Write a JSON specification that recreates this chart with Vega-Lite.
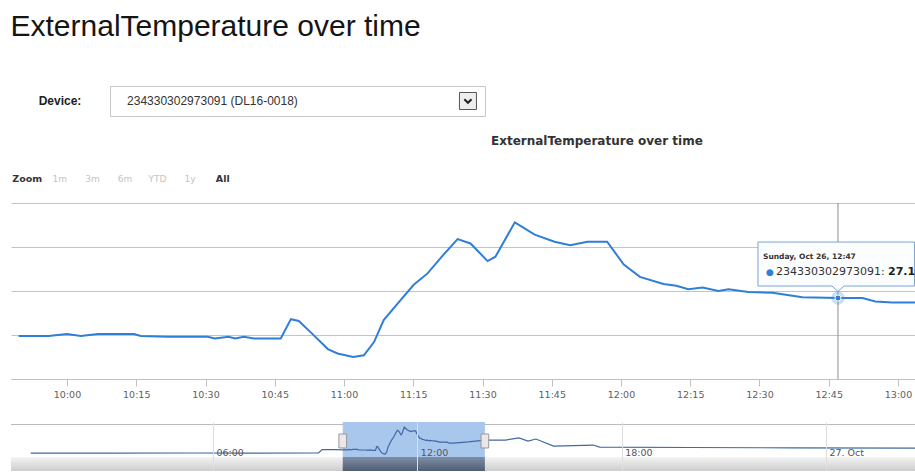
{
  "$schema": "https://vega.github.io/schema/vega-lite/v6.json",
  "background": "#ffffff",
  "padding": {"left": 10, "top": 11, "right": 0, "bottom": 0},
  "config": {
    "view": {"stroke": null},
    "font": "DejaVu Sans"
  },
  "title": {
    "text": "ExternalTemperature over time",
    "anchor": "start",
    "font": "Liberation Sans",
    "fontSize": 30,
    "fontWeight": "normal",
    "color": "#151515",
    "offset": 44
  },
  "datasets": {
    "temps": [
      {"time": "2014-10-26T00:39:00", "value": 24.0},
      {"time": "2014-10-26T03:00:00", "value": 24.0},
      {"time": "2014-10-26T05:30:00", "value": 24.05},
      {"time": "2014-10-26T07:00:00", "value": 24.0},
      {"time": "2014-10-26T09:06:00", "value": 24.05},
      {"time": "2014-10-26T09:12:00", "value": 25.0},
      {"time": "2014-10-26T09:35:00", "value": 25.0},
      {"time": "2014-10-26T09:49:30", "value": 24.95},
      {"time": "2014-10-26T09:56:00", "value": 24.95},
      {"time": "2014-10-26T10:00:00", "value": 25.05},
      {"time": "2014-10-26T10:03:00", "value": 24.95},
      {"time": "2014-10-26T10:06:42", "value": 25.05},
      {"time": "2014-10-26T10:14:30", "value": 25.05},
      {"time": "2014-10-26T10:16:00", "value": 24.95},
      {"time": "2014-10-26T10:21:48", "value": 24.9},
      {"time": "2014-10-26T10:30:30", "value": 24.9},
      {"time": "2014-10-26T10:32:00", "value": 24.8},
      {"time": "2014-10-26T10:35:00", "value": 24.9},
      {"time": "2014-10-26T10:36:24", "value": 24.8},
      {"time": "2014-10-26T10:38:18", "value": 24.9},
      {"time": "2014-10-26T10:40:30", "value": 24.8},
      {"time": "2014-10-26T10:46:18", "value": 24.8},
      {"time": "2014-10-26T10:48:30", "value": 25.9},
      {"time": "2014-10-26T10:50:12", "value": 25.8},
      {"time": "2014-10-26T10:52:48", "value": 25.15},
      {"time": "2014-10-26T10:56:30", "value": 24.2},
      {"time": "2014-10-26T10:58:36", "value": 23.95},
      {"time": "2014-10-26T11:02:00", "value": 23.75},
      {"time": "2014-10-26T11:04:18", "value": 23.85},
      {"time": "2014-10-26T11:06:30", "value": 24.6},
      {"time": "2014-10-26T11:08:36", "value": 25.85},
      {"time": "2014-10-26T11:12:18", "value": 27.0},
      {"time": "2014-10-26T11:15:06", "value": 27.85},
      {"time": "2014-10-26T11:18:06", "value": 28.5},
      {"time": "2014-10-26T11:21:00", "value": 29.4},
      {"time": "2014-10-26T11:24:36", "value": 30.45},
      {"time": "2014-10-26T11:27:24", "value": 30.2},
      {"time": "2014-10-26T11:31:06", "value": 29.2},
      {"time": "2014-10-26T11:32:48", "value": 29.45},
      {"time": "2014-10-26T11:37:00", "value": 31.4},
      {"time": "2014-10-26T11:41:18", "value": 30.7},
      {"time": "2014-10-26T11:45:36", "value": 30.3},
      {"time": "2014-10-26T11:49:00", "value": 30.1},
      {"time": "2014-10-26T11:52:42", "value": 30.3},
      {"time": "2014-10-26T11:57:00", "value": 30.3},
      {"time": "2014-10-26T12:00:36", "value": 29.0},
      {"time": "2014-10-26T12:04:06", "value": 28.3},
      {"time": "2014-10-26T12:09:12", "value": 27.9},
      {"time": "2014-10-26T12:12:00", "value": 27.8},
      {"time": "2014-10-26T12:14:36", "value": 27.6},
      {"time": "2014-10-26T12:17:42", "value": 27.7},
      {"time": "2014-10-26T12:21:06", "value": 27.5},
      {"time": "2014-10-26T12:23:18", "value": 27.6},
      {"time": "2014-10-26T12:27:36", "value": 27.45},
      {"time": "2014-10-26T12:32:48", "value": 27.4},
      {"time": "2014-10-26T12:39:18", "value": 27.15},
      {"time": "2014-10-26T12:47:00", "value": 27.1},
      {"time": "2014-10-26T12:52:18", "value": 27.1},
      {"time": "2014-10-26T12:55:06", "value": 26.9},
      {"time": "2014-10-26T12:58:48", "value": 26.85},
      {"time": "2014-10-26T13:03:48", "value": 26.85},
      {"time": "2014-10-26T13:30:00", "value": 27.2},
      {"time": "2014-10-26T13:59:00", "value": 27.7},
      {"time": "2014-10-26T14:35:00", "value": 27.7},
      {"time": "2014-10-26T14:59:00", "value": 28.3},
      {"time": "2014-10-26T15:15:00", "value": 27.4},
      {"time": "2014-10-26T15:29:00", "value": 28.0},
      {"time": "2014-10-26T16:00:00", "value": 26.0},
      {"time": "2014-10-26T17:10:00", "value": 26.3},
      {"time": "2014-10-26T17:21:00", "value": 25.7},
      {"time": "2014-10-26T20:00:00", "value": 25.6},
      {"time": "2014-10-26T23:00:00", "value": 25.5},
      {"time": "2014-10-27T02:37:00", "value": 25.4}
    ],
    "hover": [
      {"time": "2014-10-26T12:47:00", "value": 27.1, "header": "Sunday, Oct 26, 12:47", "device": "234330302973091:", "reading": "27.1"}
    ],
    "buttons": [
      {"label": "Zoom", "kind": "title"},
      {"label": "1m", "kind": "off"},
      {"label": "3m", "kind": "off"},
      {"label": "6m", "kind": "off"},
      {"label": "YTD", "kind": "off"},
      {"label": "1y", "kind": "off"},
      {"label": "All", "kind": "on"}
    ]
  },
  "spacing": 18,
  "vconcat": [
    {
      "spacing": 0,
      "hconcat": [
        {
          "width": 98,
          "height": 30,
          "data": {"values": [{"t": "Device:"}]},
          "mark": {"type": "text", "font": "Liberation Sans", "fontSize": 12, "fontWeight": "bold", "color": "#222222"},
          "encoding": {"text": {"field": "t"}}
        },
        {
          "width": 375,
          "height": 30,
          "view": {"stroke": "#c6c6c6", "strokeWidth": 1, "fill": "#ffffff"},
          "layer": [
            {
              "data": {"values": [{"part": "value", "t": "234330302973091 (DL16-0018)"}]},
              "mark": {"type": "text", "align": "left", "font": "Liberation Sans", "fontSize": 12, "color": "#333333"},
              "encoding": {
                "x": {"field": "part", "type": "nominal", "scale": {"type": "point", "domain": ["value", "icon"], "padding": 0.05}, "axis": null},
                "text": {"field": "t"}
              }
            },
            {
              "data": {"values": [{"part": "icon"}]},
              "mark": {"type": "point", "shape": "square", "size": 289, "filled": true, "fill": "#eeeeee", "stroke": "#555555", "strokeWidth": 1, "opacity": 1},
              "encoding": {"x": {"field": "part", "type": "nominal"}}
            },
            {
              "data": {"values": [{"part": "icon"}]},
              "mark": {"type": "point", "shape": "M-0.6,-0.3 L0,0.3 L0.6,-0.3", "size": 144, "filled": false, "color": "#222222", "strokeWidth": 2, "opacity": 1},
              "encoding": {"x": {"field": "part", "type": "nominal"}}
            }
          ]
        }
      ]
    },
    {
      "width": 228,
      "height": 26,
      "title": {
        "text": "ExternalTemperature over time",
        "anchor": "start",
        "dx": 480,
        "font": "DejaVu Sans",
        "fontSize": 12,
        "fontWeight": "bold",
        "color": "#333333",
        "offset": 10
      },
      "data": {"name": "buttons"},
      "encoding": {
        "x": {"field": "label", "type": "nominal", "scale": {"type": "point", "domain": ["Zoom", "1m", "3m", "6m", "YTD", "1y", "All"], "padding": 0.5}, "axis": null},
        "text": {"field": "label"}
      },
      "layer": [
        {
          "transform": [{"filter": "datum.kind == 'off'"}],
          "mark": {"type": "text", "fontSize": 9, "color": "#c4c4c4", "dy": 8}
        },
        {
          "transform": [{"filter": "datum.kind != 'off'"}],
          "mark": {"type": "text", "fontSize": 9.5, "fontWeight": "bold", "color": "#333333", "dy": 8}
        }
      ]
    },
    {
      "spacing": 23,
      "vconcat": [
        {
          "width": 905,
          "height": 176,
          "layer": [
            {
              "data": {"name": "temps"},
              "transform": [
                {"filter": {"field": "time", "range": [
                  {"year": 2014, "month": 10, "date": 26, "hours": 9, "minutes": 49, "seconds": 0},
                  {"year": 2014, "month": 10, "date": 26, "hours": 13, "minutes": 3, "seconds": 50}
                ]}}
              ],
              "mark": {"type": "line", "color": "#2f7ed8", "strokeWidth": 2},
              "encoding": {
                "x": {
                  "field": "time",
                  "type": "temporal",
                  "scale": {"domain": [
                    {"year": 2014, "month": 10, "date": 26, "hours": 9, "minutes": 47, "seconds": 52},
                    {"year": 2014, "month": 10, "date": 26, "hours": 13, "minutes": 3, "seconds": 54}
                  ]},
                  "axis": {
                    "format": "%H:%M",
                    "tickCount": 13,
                    "labelFont": "DejaVu Sans",
                    "labelFontSize": 9.5,
                    "labelColor": "#606060",
                    "tickSize": 7,
                    "tickColor": "#c0c0c0",
                    "domainColor": "#c0c0c0",
                    "labelPadding": 3,
                    "grid": false,
                    "title": null,
                    "labelFlush": false,
                    "labelOverlap": false
                  }
                },
                "y": {
                  "field": "value",
                  "type": "quantitative",
                  "scale": {"domain": [22.5, 32.5], "nice": false, "zero": false},
                  "axis": {
                    "values": [22.5, 25, 27.5, 30, 32.5],
                    "labels": false,
                    "ticks": false,
                    "domain": false,
                    "grid": true,
                    "gridColor": "#c4c4c4",
                    "gridWidth": 1.2,
                    "title": null
                  }
                }
              }
            },
            {
              "data": {"name": "hover"},
              "mark": {"type": "rule", "color": "#8c8c8c", "strokeWidth": 1},
              "encoding": {
                "x": {"field": "time", "type": "temporal"},
                "y": {"datum": 22.5, "type": "quantitative"},
                "y2": {"datum": 32.5}
              }
            },
            {
              "data": {"name": "hover"},
              "mark": {"type": "point", "shape": "circle", "size": 180, "filled": true, "color": "#2f7ed8", "opacity": 0.25},
              "encoding": {"x": {"field": "time", "type": "temporal"}, "y": {"field": "value", "type": "quantitative"}}
            },
            {
              "data": {"name": "hover"},
              "mark": {"type": "point", "shape": "circle", "size": 36, "filled": true, "color": "#2f7ed8", "opacity": 1, "stroke": "#ffffff", "strokeWidth": 1},
              "encoding": {"x": {"field": "time", "type": "temporal"}, "y": {"field": "value", "type": "quantitative"}}
            },
            {
              "data": {"name": "hover"},
              "mark": {"type": "point", "shape": "M-0.8,-0.56 L0.765,-0.56 L0.765,-0.12 L0.06,-0.12 L0,-0.065 L-0.06,-0.12 L-0.8,-0.12 Z", "size": 40000, "filled": true, "fill": "#fbfdff", "stroke": "#7aa3d4", "strokeWidth": 1, "opacity": 1},
              "encoding": {"x": {"field": "time", "type": "temporal"}, "y": {"field": "value", "type": "quantitative"}}
            },
            {
              "data": {"name": "hover"},
              "mark": {"type": "text", "align": "left", "baseline": "middle", "dx": -75, "dy": -41, "fontSize": 7.5, "fontWeight": "bold", "color": "#333333"},
              "encoding": {"x": {"field": "time", "type": "temporal"}, "y": {"field": "value", "type": "quantitative"}, "text": {"field": "header"}}
            },
            {
              "data": {"name": "hover"},
              "mark": {"type": "text", "align": "left", "baseline": "middle", "dx": -72, "dy": -26, "fontSize": 9, "color": "#2f7ed8", "text": "●"},
              "encoding": {"x": {"field": "time", "type": "temporal"}, "y": {"field": "value", "type": "quantitative"}}
            },
            {
              "data": {"name": "hover"},
              "mark": {"type": "text", "align": "left", "baseline": "middle", "dx": -62, "dy": -26, "fontSize": 11, "color": "#333333"},
              "encoding": {"x": {"field": "time", "type": "temporal"}, "y": {"field": "value", "type": "quantitative"}, "text": {"field": "device"}}
            },
            {
              "data": {"name": "hover"},
              "mark": {"type": "text", "align": "left", "baseline": "middle", "dx": 50, "dy": -26, "fontSize": 11, "fontWeight": "bold", "color": "#222222"},
              "encoding": {"x": {"field": "time", "type": "temporal"}, "y": {"field": "value", "type": "quantitative"}, "text": {"field": "reading"}}
            }
          ]
        },
        {
          "width": 905,
          "height": 49,
          "layer": [
            {
              "data": {"values": [{"part": "track"}]},
              "mark": {"type": "rect", "fill": {"gradient": "linear", "x1": 0, "y1": 0, "x2": 0, "y2": 1, "stops": [{"offset": 0, "color": "#f4f4f4"}, {"offset": 1, "color": "#cdcdcd"}]}},
              "encoding": {
                "x": {"datum": {"year": 2014, "month": 10, "date": 26, "hours": 0, "minutes": 4, "seconds": 4}, "type": "temporal"},
                "x2": {"datum": {"year": 2014, "month": 10, "date": 27, "hours": 2, "minutes": 38, "seconds": 35}},
                "y": {"datum": 22.9, "type": "quantitative", "scale": {"domain": [18.95, 32.82], "nice": false, "zero": false}, "axis": null},
                "y2": {"datum": 18.95}
              }
            },
            {
              "data": {"values": [{"part": "outline"}]},
              "mark": {"type": "rule", "color": "#b8b8b8", "strokeWidth": 1},
              "encoding": {
                "x": {"datum": {"year": 2014, "month": 10, "date": 26, "hours": 0, "minutes": 4, "seconds": 4}, "type": "temporal"},
                "x2": {"datum": {"year": 2014, "month": 10, "date": 27, "hours": 2, "minutes": 38, "seconds": 35}},
                "y": {"datum": 32.1, "type": "quantitative"}
              }
            },
            {
              "data": {"values": [{"from": "2014-10-26T09:48:33", "to": "2014-10-26T13:59:00"}], "format": {"parse": {"from": "date", "to": "date"}}},
              "mark": {"type": "rect", "fill": "#a9c6ec", "opacity": 1},
              "encoding": {
                "x": {"field": "from", "type": "temporal"},
                "x2": {"field": "to"},
                "y": {"datum": 32.82, "type": "quantitative"},
                "y2": {"datum": 22.9}
              }
            },
            {
              "data": {"values": [{"from": "2014-10-26T09:48:33", "to": "2014-10-26T13:59:00"}], "format": {"parse": {"from": "date", "to": "date"}}},
              "mark": {"type": "rect", "fill": {"gradient": "linear", "x1": 0, "y1": 0, "x2": 0, "y2": 1, "stops": [{"offset": 0, "color": "#7f8ea4"}, {"offset": 1, "color": "#4f5e74"}]}},
              "encoding": {
                "x": {"field": "from", "type": "temporal"},
                "x2": {"field": "to"},
                "y": {"datum": 22.9, "type": "quantitative"},
                "y2": {"datum": 18.95}
              }
            },
            {
              "data": {"name": "temps"},
              "mark": {"type": "line", "color": "#3f6aa3", "strokeWidth": 1.2},
              "encoding": {
                "x": {
                  "field": "time",
                  "type": "temporal",
                  "scale": {"domain": [
                    {"year": 2014, "month": 10, "date": 26, "hours": 0, "minutes": 4, "seconds": 4},
                    {"year": 2014, "month": 10, "date": 27, "hours": 2, "minutes": 38, "seconds": 35}
                  ]},
                  "axis": {
                    "values": [
                      {"year": 2014, "month": 10, "date": 26, "hours": 6},
                      {"year": 2014, "month": 10, "date": 26, "hours": 12},
                      {"year": 2014, "month": 10, "date": 26, "hours": 18},
                      {"year": 2014, "month": 10, "date": 27, "hours": 0}
                    ],
                    "labelExpr": "hours(datum.value) == 0 ? timeFormat(datum.value, '%d. %b') : timeFormat(datum.value, '%H:%M')",
                    "labelAlign": "left",
                    "labelOffset": 3,
                    "labelPadding": -18.5,
                    "labelBaseline": "middle",
                    "labelFont": "DejaVu Sans",
                    "labelFontSize": 9.5,
                    "labelColor": "#555555",
                    "ticks": false,
                    "domain": false,
                    "grid": true,
                    "gridColor": "#dedede",
                    "title": null,
                    "labelFlush": false,
                    "labelOverlap": false,
                    "zindex": 1
                  }
                },
                "y": {"field": "value", "type": "quantitative"}
              }
            },
            {
              "data": {"values": [{"edge": "2014-10-26T09:48:33"}, {"edge": "2014-10-26T13:59:00"}]},
              "mark": {"type": "point", "shape": "M-0.55,-1 L0.55,-1 L0.55,1 L-0.55,1 Z", "size": 196, "filled": true, "fill": "#ebe7e8", "stroke": "#999999", "strokeWidth": 1, "opacity": 1},
              "encoding": {"x": {"field": "edge", "type": "temporal"}, "y": {"datum": 27.45, "type": "quantitative"}}
            }
          ]
        }
      ]
    }
  ]
}
